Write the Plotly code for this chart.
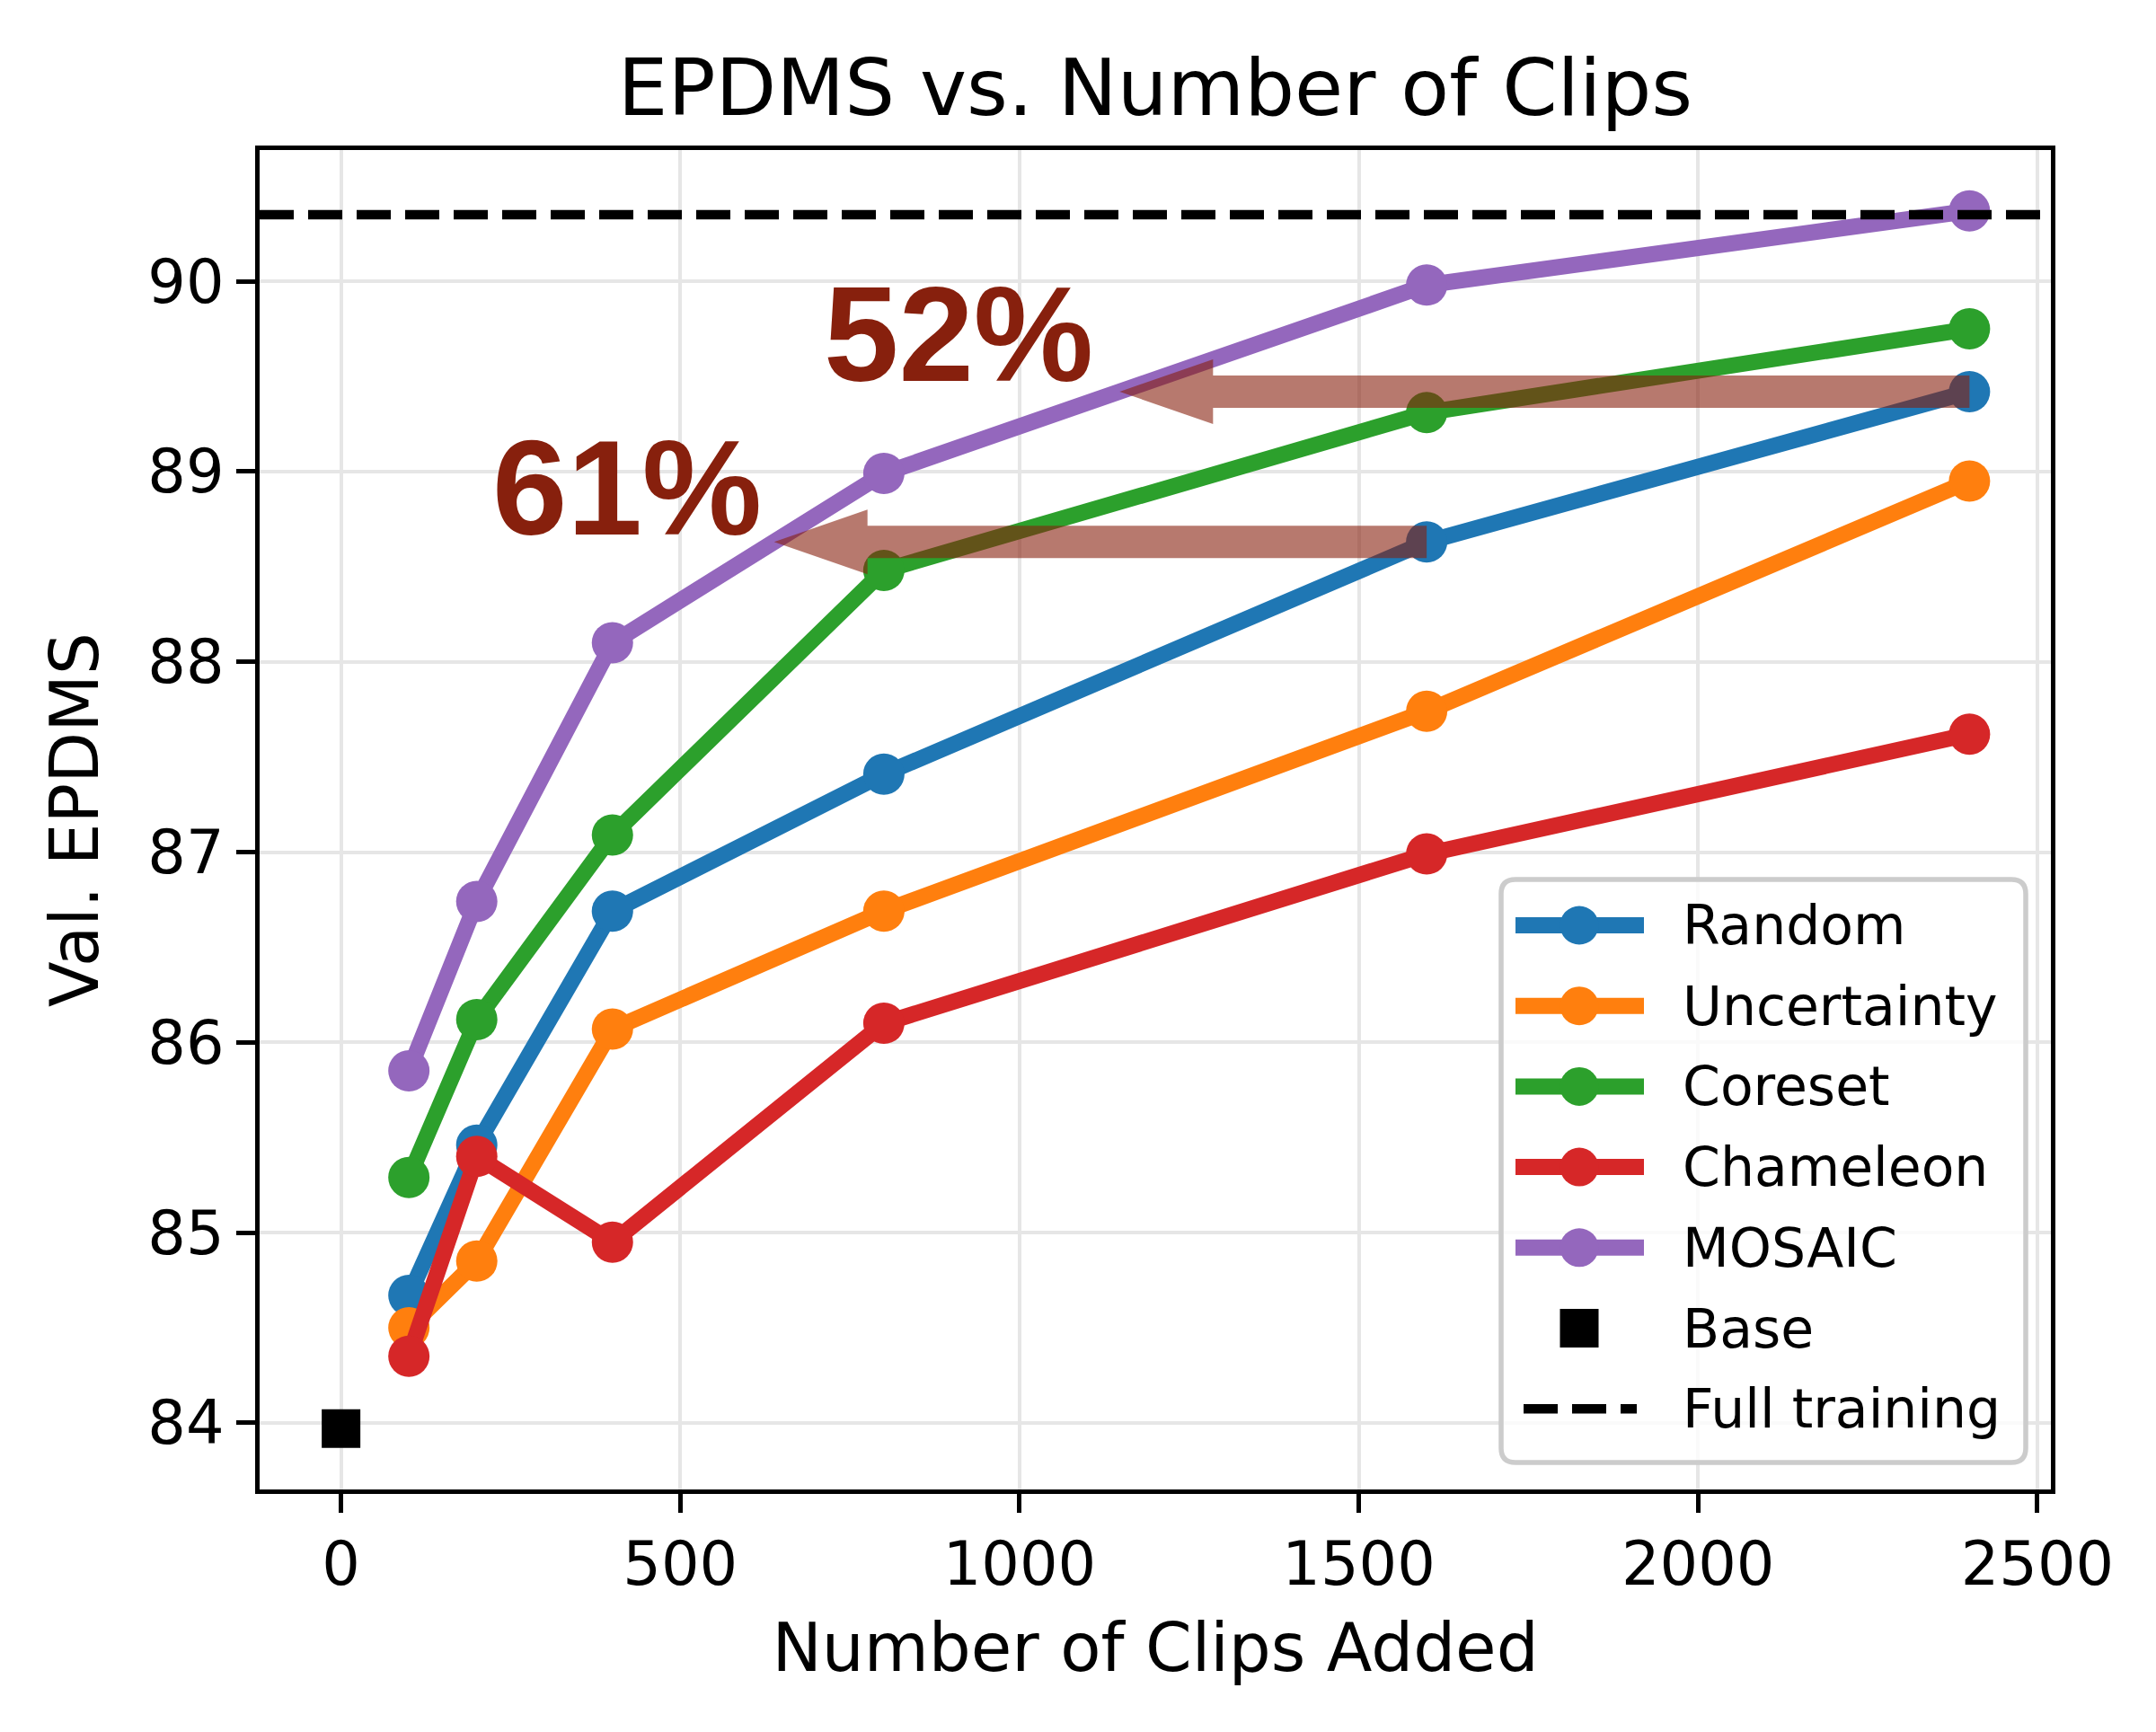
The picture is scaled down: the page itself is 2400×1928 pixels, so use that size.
import plotly.graph_objects as go

# ---------------- data ----------------
clips = [100, 200, 400, 800, 1600, 2400]
random_v = [84.67, 85.46, 86.69, 87.41, 88.63, 89.42]
uncertainty_v = [84.50, 84.85, 86.07, 86.69, 87.74, 88.95]
coreset_v = [85.29, 86.12, 87.09, 88.48, 89.31, 89.75]
chameleon_v = [84.35, 85.40, 84.95, 86.10, 86.99, 87.62]
mosaic_v = [85.85, 86.74, 88.10, 88.99, 89.98, 90.37]
base_x = [0]
base_y = [83.97]
full_training = 90.35

series_names = ["Random", "Uncertainty", "Coreset", "Chameleon", "MOSAIC"]
series_vals = [random_v, uncertainty_v, coreset_v, chameleon_v, mosaic_v]
series_colors = ["#1f77b4", "#ff7f0e", "#2ca02c", "#d62728", "#9467bd"]

# ---------------- layout geometry ----------------
W_FIG, H_FIG = 2400, 1928
L, R, T, B = 289, 2283, 167, 1658
PW, PH = R - L, B - T
XR = [-120, 2520]
YR = [83.65, 90.69]
FONT = "DejaVu Sans"

def px(x):
    return (x - L) / PW

def py(y):
    return (B - y) / PH

fig = go.Figure()

for name, vals, col in zip(series_names, series_vals, series_colors):
    fig.add_trace(go.Scatter(
        x=clips, y=vals, name=name, mode="lines+markers",
        line=dict(color=col, width=18),
        marker=dict(color=col, size=46, symbol="circle", line=dict(width=0)),
        showlegend=False,
    ))

fig.add_trace(go.Scatter(
    x=base_x, y=base_y, name="Base", mode="markers",
    marker=dict(color="black", size=43, symbol="square", line=dict(width=0)),
    showlegend=False,
))

shapes = []
annotations = []

# Full training dashed line (axhline)
shapes.append(dict(type="line", xref="paper", yref="y", x0=0, x1=1,
                   y0=full_training, y1=full_training,
                   line=dict(color="black", width=10.5, dash="38px,16px"), layer="above"))

# ---------------- arrows derived from data ----------------
def cross_x(xs, ys, target):
    for i in range(len(xs) - 1):
        if ys[i] <= target <= ys[i + 1]:
            return xs[i] + (target - ys[i]) / (ys[i + 1] - ys[i]) * (xs[i + 1] - xs[i])
    return xs[0]

x_per_px = (XR[1] - XR[0]) / PW
y_per_px = (YR[1] - YR[0]) / PH
shaft_h = 18 * y_per_px
head_h = 36 * y_per_px
head_l = 104 * x_per_px
arrow_col = "rgba(135,32,13,0.6)"

arrow_specs = [(clips[-1], random_v[-1]), (clips[-2], random_v[-2])]
for x_start, yv in arrow_specs:
    xt = cross_x(clips, mosaic_v, yv)
    xb = xt + head_l
    path = (f"M{x_start},{yv - shaft_h} L{xb},{yv - shaft_h} L{xb},{yv - head_h} "
            f"L{xt},{yv} L{xb},{yv + head_h} L{xb},{yv + shaft_h} L{x_start},{yv + shaft_h} Z")
    shapes.append(dict(type="path", xref="x", yref="y", path=path,
                       fillcolor=arrow_col, line=dict(width=0), layer="above"))

pct_labels = ["52%", "61%"]
pct_pos = [(910, 89.72), (421, 88.915)]
for txt, (xx, yy) in zip(pct_labels, pct_pos):
    annotations.append(dict(text=f"<b>{txt}</b>", x=xx, y=yy, xref="x", yref="y",
                            showarrow=False, xanchor="center", yanchor="middle",
                            font=dict(family="Liberation Sans", size=150, color="#87200d")))

# ---------------- legend (drawn manually) ----------------
bx0, bx1, by0, by1 = 1671, 2255, 979, 1628
rad = 16
rx, ry = rad / PW, rad / PH
X0, X1, Y0, Y1 = px(bx0), px(bx1), py(by1), py(by0)
legend_path = (f"M{X0 + rx},{Y0} L{X1 - rx},{Y0} Q{X1},{Y0} {X1},{Y0 + ry} "
               f"L{X1},{Y1 - ry} Q{X1},{Y1} {X1 - rx},{Y1} L{X0 + rx},{Y1} "
               f"Q{X0},{Y1} {X0},{Y1 - ry} L{X0},{Y0 + ry} Q{X0},{Y0} {X0 + rx},{Y0} Z")
shapes.append(dict(type="path", xref="paper", yref="paper", path=legend_path,
                   fillcolor="rgba(255,255,255,0.8)", line=dict(color="#cccccc", width=5.5),
                   layer="above"))

row0, drow = 1030, 89.7
legend_names = series_names + ["Base", "Full training"]
for i, nm in enumerate(legend_names):
    yc = py(row0 + i * drow)
    if i < len(series_names):
        col = series_colors[i]
        shapes.append(dict(type="line", xref="paper", yref="paper",
                           x0=px(1687), x1=px(1830), y0=yc, y1=yc,
                           line=dict(color=col, width=18), layer="above"))
        shapes.append(dict(type="circle", xref="paper", yref="paper",
                           xsizemode="pixel", ysizemode="pixel",
                           xanchor=px(1758), yanchor=yc, x0=-21.5, x1=21.5, y0=-21.5, y1=21.5,
                           fillcolor=col, line=dict(width=0), layer="above"))
    elif nm == "Base":
        shapes.append(dict(type="rect", xref="paper", yref="paper",
                           xsizemode="pixel", ysizemode="pixel",
                           xanchor=px(1758), yanchor=yc, x0=-21.5, x1=21.5, y0=-21.5, y1=21.5,
                           fillcolor="black", line=dict(width=0), layer="above"))
    else:
        shapes.append(dict(type="line", xref="paper", yref="paper",
                           x0=px(1696), x1=px(1822), y0=yc, y1=yc,
                           line=dict(color="black", width=10.5, dash="38px,16px"), layer="above"))
    annotations.append(dict(text=nm, x=px(1871), y=yc, xref="paper", yref="paper",
                            showarrow=False, xanchor="left", yanchor="middle",
                            font=dict(family=FONT, size=60, color="black")))

axis_common = dict(
    showline=True, linecolor="black", linewidth=5, mirror=True,
    ticks="outside", ticklen=21, tickwidth=4.5, tickcolor="black",
    showgrid=True, gridcolor="#e6e6e6", gridwidth=4.4, zeroline=False,
    tickfont=dict(family=FONT, size=67, color="black"),
)

fig.update_layout(
    width=W_FIG, height=H_FIG,
    margin=dict(l=L, r=W_FIG - R, t=T, b=H_FIG - B, autoexpand=False),
    paper_bgcolor="white", plot_bgcolor="white",
    showlegend=False,
    title=dict(text="EPDMS vs. Number of Clips", x=0.5, xref="paper", xanchor="center",
               y=1 - 97 / H_FIG, yref="container", yanchor="middle",
               font=dict(family=FONT, size=88, color="black")),
    xaxis=dict(range=XR, tickvals=[0, 500, 1000, 1500, 2000, 2500],
               title=dict(text="Number of Clips Added", standoff=30,
                          font=dict(family=FONT, size=74, color="black")),
               **axis_common),
    yaxis=dict(range=YR, tickvals=[84, 85, 86, 87, 88, 89, 90],
               title=dict(text="Val. EPDMS", standoff=32,
                          font=dict(family=FONT, size=74, color="black")),
               **axis_common),
    shapes=shapes,
    annotations=annotations,
)

fig.write_html("out.html")
